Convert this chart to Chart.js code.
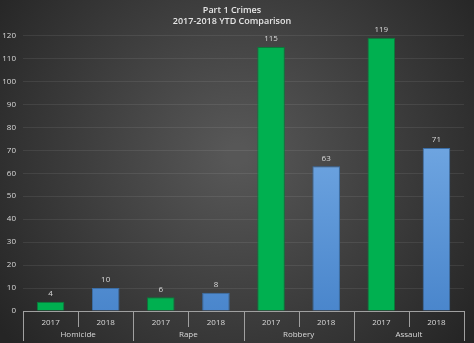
<!DOCTYPE html>
<html>
<head>
<meta charset="utf-8">
<script src="https://cdn.jsdelivr.net/npm/chart.js@4"></script>
<style>
  html, body { margin: 0; padding: 0; background: #2b2b2b; }
  canvas { display: block; }
</style>
</head>
<body>
<canvas id="crimeChart" width="474" height="343"></canvas>
<script>
const categories = ['Homicide', 'Rape', 'Robbery', 'Assault'];
const years = ['2017', '2018'];
const ytd2017 = [4, 6, 115, 119];
const ytd2018 = [10, 8, 63, 71];
const yTicks = [0, 10, 20, 30, 40, 50, 60, 70, 80, 90, 100, 110, 120];

// one slot per year inside each category
const slotLabels = [];
const green = [];
const blue = [];
categories.forEach((c, i) => {
    slotLabels.push(years[0], years[1]);
    green.push(ytd2017[i], null);
    blue.push(null, ytd2018[i]);
});

const FONT = 'Open Sans';
const TEXT = '#d9d9d9';
const AXIS = '#a0a0a0';

// dark radial backdrop
const backdrop = {
    id: 'backdrop',
    beforeDraw(chart) {
        const { ctx, width, height } = chart;
        const g = ctx.createRadialGradient(width / 2, height * 0.45, 10, width / 2, height * 0.45, width * 0.62);
        g.addColorStop(0, '#575757');
        g.addColorStop(1, '#252525');
        ctx.save();
        ctx.fillStyle = g;
        ctx.fillRect(0, 0, width, height);
        ctx.restore();
    }
};

// value above each bar
const valueLabels = {
    id: 'valueLabels',
    afterDatasetsDraw(chart) {
        const { ctx } = chart;
        ctx.save();
        ctx.font = '8px "' + FONT + '"';
        ctx.fillStyle = TEXT;
        ctx.textAlign = 'center';
        ctx.textBaseline = 'bottom';
        chart.data.datasets.forEach((ds, di) => {
            chart.getDatasetMeta(di).data.forEach((bar, i) => {
                if (ds.data[i] == null) return;
                ctx.fillText(ds.data[i], bar.x, bar.y - 4);
            });
        });
        ctx.restore();
    }
};

// tick dividers for the two label rows: short between years, long between categories
const dividers = {
    id: 'dividers',
    afterDraw(chart) {
        const { ctx } = chart;
        const x = chart.scales.x;
        const base = chart.chartArea.bottom;
        const step = x.getPixelForValue(1) - x.getPixelForValue(0);
        ctx.save();
        ctx.strokeStyle = AXIS;
        ctx.lineWidth = 1;
        for (let i = 0; i <= slotLabels.length; i++) {
            const px = Math.round(x.getPixelForValue(i) - step / 2) + 0.5;
            const len = i % 2 === 0 ? 30 : 16;
            ctx.beginPath();
            ctx.moveTo(px, base);
            ctx.lineTo(px, base + len);
            ctx.stroke();
        }
        ctx.restore();
    }
};

function blueFill(context) {
    const area = context.chart.chartArea;
    if (!area) return '#5b9bd5';
    const g = context.chart.ctx.createLinearGradient(0, area.top, 0, area.bottom);
    g.addColorStop(0, '#86b9ee');
    g.addColorStop(1, '#4a86cc');
    return g;
}

new Chart(document.getElementById('crimeChart').getContext('2d'), {
    type: 'bar',
    data: {
        labels: slotLabels,
        datasets: [{
            label: years[0],
            data: green,
            backgroundColor: '#00b050',
            borderColor: '#0a7a3a',
            borderWidth: 1,
            barPercentage: 0.5,
            categoryPercentage: 1,
            grouped: false
        }, {
            label: years[1],
            data: blue,
            backgroundColor: blueFill,
            borderColor: '#3b6fa8',
            borderWidth: 1,
            barPercentage: 0.5,
            categoryPercentage: 1,
            grouped: false
        }]
    },
    options: {
        responsive: false,
        animation: false,
        layout: { padding: { left: 0, right: 10, top: 0, bottom: 0 } },
        plugins: {
            legend: { display: false },
            tooltip: { enabled: false },
            title: {
                display: true,
                text: ['Part 1 Crimes', '2017-2018 YTD Comparison'],
                color: '#e6e6e6',
                font: { family: FONT, size: 9, weight: '600', lineHeight: 1.25 },
                padding: { top: 5, bottom: 8 }
            }
        },
        scales: {
            x: {
                position: 'bottom',
                offset: true,
                grid: { display: false, drawTicks: false },
                border: { display: true, color: AXIS },
                ticks: { color: TEXT, font: { family: FONT, size: 8 }, padding: 7, maxRotation: 0 },
                afterFit(scale) { scale.height = 17; }
            },
            x2: {
                type: 'category',
                labels: categories,
                position: 'bottom',
                offset: true,
                grid: { display: false, drawTicks: false },
                border: { display: false },
                ticks: { color: TEXT, font: { family: FONT, size: 8 }, padding: 2, maxRotation: 0 },
                afterFit(scale) { scale.height = 15; }
            },
            y: {
                min: 0,
                max: 120,
                afterBuildTicks(scale) { scale.ticks = yTicks.map(v => ({ value: v })); },
                grid: { color: 'rgba(255,255,255,0.08)', drawTicks: false },
                border: { display: false },
                ticks: { color: TEXT, font: { family: FONT, size: 8 }, padding: 7 },
                afterFit(scale) { scale.width = 23; }
            }
        }
    },
    plugins: [backdrop, valueLabels, dividers]
});
</script>
</body>
</html>
